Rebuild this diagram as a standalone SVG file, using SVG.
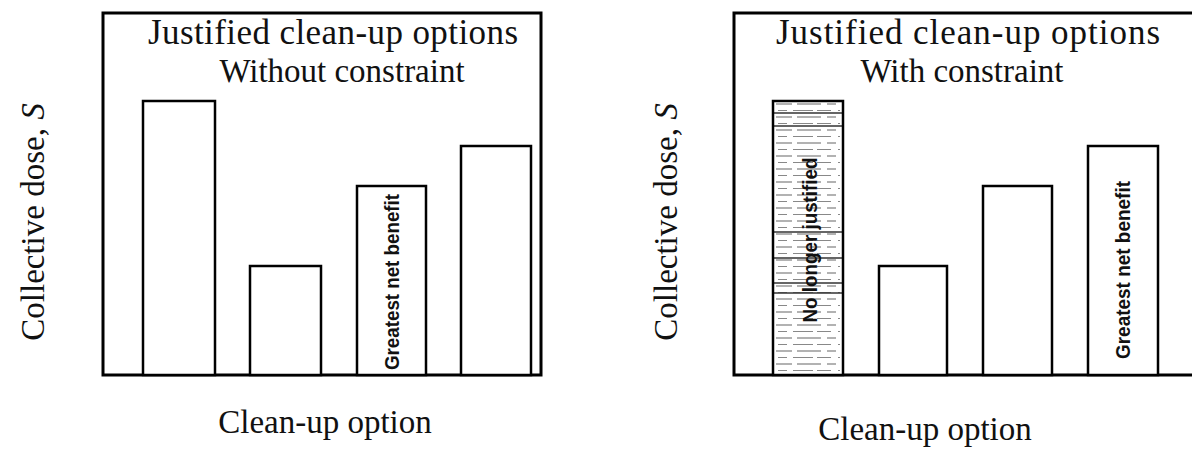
<svg xmlns="http://www.w3.org/2000/svg" width="1192" height="451" viewBox="0 0 1192 451">
  <style>
    .frame { fill: none; stroke: #000; stroke-width: 3; }
    .bar { fill: #fff; stroke: #000; stroke-width: 2.5; }
    .title { font-family: "Liberation Serif", "Times New Roman", serif; font-size: 35px; fill: #111; }
    .sub { font-family: "Liberation Serif", "Times New Roman", serif; font-size: 33px; fill: #111; }
    .axis { font-family: "Liberation Serif", "Times New Roman", serif; font-size: 33px; fill: #111; }
    .tag { font-family: "Liberation Sans", Arial, sans-serif; font-weight: bold; font-size: 20px; fill: #111; }
    .rule { stroke: #333; stroke-width: 1.3; }
  </style>
  <defs>
    <pattern id="hatch" x="773" y="101" width="70" height="13" patternUnits="userSpaceOnUse">
      <rect width="70" height="13" fill="#fff"/>
      <line x1="3" y1="3" x2="67" y2="3" stroke="#666" stroke-width="1.2" stroke-dasharray="16 5 24 6 9 4"/>
      <line x1="5" y1="9.5" x2="67" y2="9.5" stroke="#888" stroke-width="1.1" stroke-dasharray="9 6 20 4 14 7"/>
    </pattern>
  </defs>

  <!-- left chart: without constraint -->
  <g id="chart-left">
    <path class="frame" d="M103,13 H541 V375 H103 Z"/>
    <text class="title" x="333" y="44" text-anchor="middle" textLength="370">Justified clean-up options</text>
    <text class="sub" x="342" y="82" text-anchor="middle">Without constraint</text>
    <text class="axis" transform="translate(44,222) rotate(-90)" text-anchor="middle">Collective dose, <tspan font-style="italic">S</tspan></text>
    <text class="axis" x="325" y="433" text-anchor="middle">Clean-up option</text>
  </g>
  <g id="left-bar-1"><rect class="bar" x="143" y="101" width="72" height="274"/></g>
  <g id="left-bar-2"><rect class="bar" x="250" y="266" width="71" height="109"/></g>
  <g id="left-bar-3">
    <rect class="bar" x="357" y="186" width="69" height="189"/>
    <text class="tag" transform="translate(399,282) rotate(-90)" text-anchor="middle" textLength="176" lengthAdjust="spacingAndGlyphs">Greatest net benefit</text>
  </g>
  <g id="left-bar-4"><rect class="bar" x="461" y="146" width="70" height="229"/></g>

  <!-- right chart: with constraint -->
  <g id="chart-right">
    <path class="frame" d="M1192,13 H734 V375 H1192"/>
    <text class="title" x="968" y="44" text-anchor="middle" textLength="384">Justified clean-up options</text>
    <text class="sub" x="962" y="82" text-anchor="middle">With constraint</text>
    <text class="axis" transform="translate(677,222) rotate(-90)" text-anchor="middle" font-size="34">Collective dose, <tspan font-style="italic">S</tspan></text>
    <text class="axis" x="925" y="440" text-anchor="middle">Clean-up option</text>
  </g>
  <g id="right-bar-1">
    <rect x="773" y="101" width="70" height="274" fill="url(#hatch)"/>
    <!-- darker full-width rules inside the shaded bar -->
    <g class="rule">
      <line x1="774" y1="113" x2="842" y2="113"/>
      <line x1="774" y1="126" x2="842" y2="126"/>
      <line x1="774" y1="232" x2="842" y2="232"/>
      <line x1="774" y1="258" x2="842" y2="258"/>
      <line x1="774" y1="283" x2="842" y2="283"/>
      <line x1="774" y1="293" x2="842" y2="293"/>
    </g>
    <rect x="773" y="101" width="70" height="274" fill="none" stroke="#000" stroke-width="2.5"/>
    <text class="tag" transform="translate(817,240) rotate(-90)" text-anchor="middle" textLength="165" lengthAdjust="spacingAndGlyphs">No longer justified</text>
  </g>
  <g id="right-bar-2"><rect class="bar" x="879" y="266" width="68" height="109"/></g>
  <g id="right-bar-3"><rect class="bar" x="983" y="186" width="69" height="189"/></g>
  <g id="right-bar-4">
    <rect class="bar" x="1088" y="146" width="70" height="229"/>
    <text class="tag" transform="translate(1130,270) rotate(-90)" text-anchor="middle" textLength="178" lengthAdjust="spacingAndGlyphs">Greatest net benefit</text>
  </g>
</svg>
